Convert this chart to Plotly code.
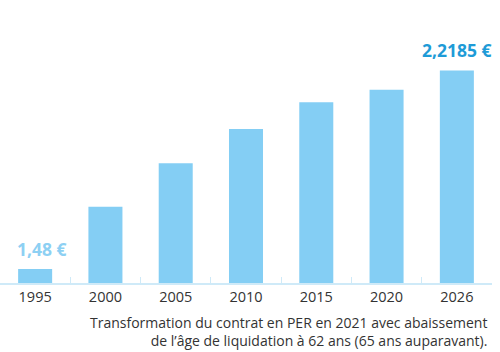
import plotly.graph_objects as go

years = ["1995", "2000", "2005", "2010", "2015", "2020", "2026"]
values = [1.48, 1.712, 1.873, 2.001, 2.100, 2.147, 2.2185]
first_label = "1,48 €"
last_label = "2,2185 €"
footnote = "Transformation du contrat en PER en 2021 avec abaissement<br>de l’âge de liquidation à 62 ans (65 ans auparavant)."

bar_color = "#84CEF4"
font_family = "Open Sans, Noto Sans, sans-serif"

fig = go.Figure()
fig.add_trace(go.Bar(
    x=years, y=values,
    marker=dict(color=bar_color, line=dict(width=0)),
    hoverinfo="skip",
))

fig.add_annotation(x=0, y=values[0], text=first_label, showarrow=False,
                   xanchor="center", yanchor="bottom", yshift=6, xshift=7,
                   font=dict(family=font_family, size=17.5, color="#8DD0F3", weight="bold"))
fig.add_annotation(x=len(years) - 1, y=values[-1], text=last_label, showarrow=False,
                   xanchor="center", yanchor="bottom", yshift=6,
                   font=dict(family=font_family, size=17.5, color="#1E9BD7", weight="bold"))

fig.add_annotation(xref="paper", yref="paper", x=1.0, y=-0.098, xshift=-3, text=footnote,
                   showarrow=False, xanchor="right", yanchor="top", align="right",
                   font=dict(family=font_family, size=14, color="#333333"))

fig.update_layout(
    width=500, height=352,
    margin=dict(l=0, r=8, t=0, b=69),
    paper_bgcolor="white", plot_bgcolor="white",
    showlegend=False,
    bargap=0.516,
    font=dict(family=font_family, color="#333333"),
    xaxis=dict(
        type="category",
        range=[-0.5, len(years) - 0.5],
        showline=True, linecolor="#CFEAF8", linewidth=1.5,
        ticks="inside", tickson="boundaries", ticklen=6, tickcolor="#CFEAF8",
        showgrid=False,
        tickfont=dict(family=font_family, size=14.5, color="#333333"),
        fixedrange=True,
    ),
    yaxis=dict(
        range=[1.428, 2.4804],
        visible=False, showgrid=False, zeroline=False, fixedrange=True,
    ),
)

fig.write_html("out.html")
